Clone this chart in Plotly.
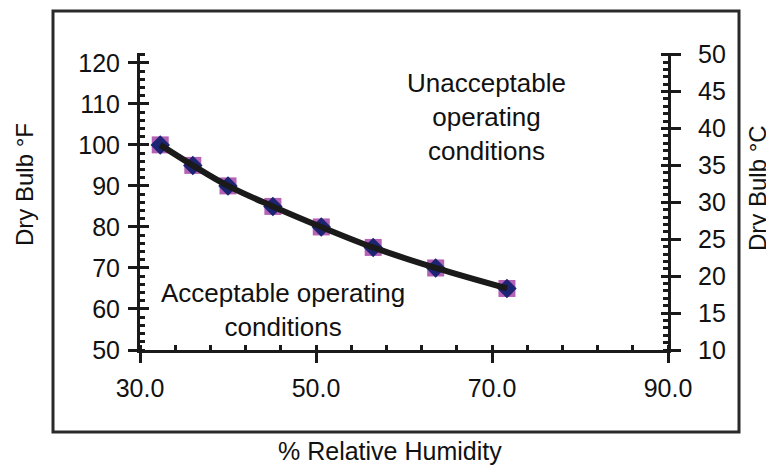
import plotly.graph_objects as go

# Data
rh_percent = [32.3, 36.0, 40.0, 45.1, 50.6, 56.5, 63.6, 71.7]
dry_bulb_f = [100, 95, 90, 85, 80, 75, 70, 65]
x_ticks = [30, 50, 70, 90]
yf_ticks = [50, 60, 70, 80, 90, 100, 110, 120]
yc_ticks = [10, 15, 20, 25, 30, 35, 40, 45, 50]

FONT = "Liberation Sans, Arial, sans-serif"
INK = "#1a1a1a"
TXT = "#111111"

fig = go.Figure()
fig.add_trace(go.Scatter(x=rh_percent, y=dry_bulb_f, mode="markers",
                         marker=dict(symbol="square", size=17, color="#b462b6"),
                         showlegend=False, hoverinfo="skip"))
fig.add_trace(go.Scatter(x=rh_percent, y=dry_bulb_f, mode="markers",
                         marker=dict(symbol="diamond", size=15, color="#1c2473"),
                         showlegend=False, hoverinfo="skip"))
fig.add_trace(go.Scatter(x=rh_percent, y=dry_bulb_f, mode="lines",
                         line=dict(color=INK, width=6, shape="spline"),
                         showlegend=False))
# dummy traces so overlay axes are drawn
fig.add_trace(go.Scatter(x=[None], y=[None], xaxis="x", yaxis="y2", showlegend=False))
fig.add_trace(go.Scatter(x=[None], y=[None], xaxis="x3", yaxis="y3", showlegend=False))
fig.add_trace(go.Scatter(x=[None], y=[None], xaxis="x", yaxis="y4", showlegend=False))

tickfont = dict(family=FONT, size=25, color=TXT)

common = dict(showgrid=False, zeroline=False, tickcolor=INK, tickwidth=3)

fig.update_layout(
    width=766, height=460,
    margin=dict(l=132, r=106, t=45, b=118),
    paper_bgcolor="white", plot_bgcolor="white",
    font=dict(family=FONT, color=TXT),
    xaxis=dict(range=[30, 90], tickvals=x_ticks, tickformat=".1f",
               ticks="outside", ticklen=10, showline=True, linewidth=3, linecolor=INK,
               tickfont=tickfont, ticklabelstandoff=4,
               minor=dict(ticks="inside", dtick=4, tick0=30, ticklen=5, tickwidth=3, tickcolor=INK),
               **common),
    yaxis=dict(range=[50, 122.4], tickvals=yf_ticks,
               ticks="outside", ticklen=9, showline=True, linewidth=3, linecolor=INK,
               tickfont=tickfont, ticklabelstandoff=3,
               minor=dict(ticks="inside", dtick=2, tick0=50, ticklen=5, tickwidth=3, tickcolor=INK),
               **common),
    yaxis2=dict(overlaying="y", side="right", anchor="x", range=[10, 50.22], tickvals=yc_ticks,
                ticks="outside", ticklen=10, showline=True, linewidth=3, linecolor=INK,
                tickfont=tickfont, ticklabelstandoff=12,
                minor=dict(ticks="inside", dtick=1, tick0=10, ticklen=5, tickwidth=3, tickcolor=INK),
                **common),
    xaxis3=dict(overlaying="x", anchor="y3", range=[30, 90], tickvals=x_ticks,
                ticks="inside", ticklen=4, showticklabels=False, showline=False, **common),
    yaxis3=dict(overlaying="y", anchor="x3", range=[50, 122.4], tickvals=yf_ticks,
                ticks="inside", ticklen=9, showticklabels=False, showline=False, **common),
    yaxis4=dict(overlaying="y", side="right", anchor="x", range=[10, 50.22], tickvals=yc_ticks,
                ticks="inside", ticklen=7, showticklabels=False, showline=False, **common),
    shapes=[dict(type="rect", xref="paper", yref="paper",
                 x0=(53 - 140) / 528, x1=(739 - 140) / 528,
                 y0=(350 - 432) / 297, y1=(350 - 11) / 297,
                 line=dict(color="#2a2a2a", width=3), fillcolor="rgba(0,0,0,0)", layer="below")],
    annotations=[
        dict(text="Unacceptable<br>operating<br>conditions", x=69.4, y=106.7, xref="x", yref="y",
             xanchor="center", yanchor="middle",
             showarrow=False, font=dict(family=FONT, size=26, color=TXT), align="center"),
        dict(text="Acceptable operating<br>conditions", x=46.3, y=59.7, xref="x", yref="y",
             xanchor="center", yanchor="middle",
             showarrow=False, font=dict(family=FONT, size=26, color=TXT), align="center"),
        dict(text="Dry Bulb °F", x=(24 - 140) / 528, y=(350 - 185) / 297, xref="paper", yref="paper",
             xanchor="center", yanchor="middle",
             textangle=-90, showarrow=False, font=dict(family=FONT, size=24, color=TXT)),
        dict(text="Dry Bulb °C", x=(757 - 140) / 528, y=(350 - 188) / 297, xref="paper", yref="paper",
             xanchor="center", yanchor="middle",
             textangle=-90, showarrow=False, font=dict(family=FONT, size=24, color=TXT)),
        dict(text="% Relative Humidity", x=(390 - 140) / 528, y=(350 - 451) / 297,
             xref="paper", yref="paper", showarrow=False, xanchor="center", yanchor="middle",
             font=dict(family=FONT, size=25, color=TXT)),
    ],
)

fig.write_html("out.html")
